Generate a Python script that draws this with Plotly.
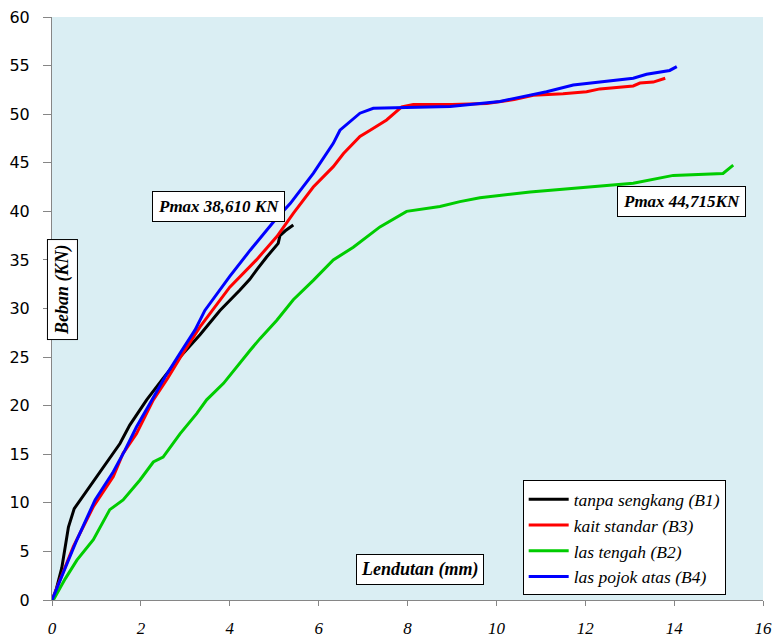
import plotly.graph_objects as go

# Data (Lendutan mm vs Beban kN)
b1_x = [0, 0.05, 0.22, 0.37, 0.5, 0.85, 1.23, 1.53, 1.75, 2.13, 2.5, 2.88, 3.33, 3.78, 4.23, 4.45, 4.61, 4.83, 5.09, 5.13, 5.25, 5.43]
b1_y = [0, 0.3, 3.3, 7.5, 9.4, 11.7, 14.1, 16.1, 18.0, 20.6, 22.8, 25.0, 27.3, 29.8, 31.9, 33.0, 34.0, 35.3, 36.7, 37.5, 38.0, 38.6]

b3_x = [0, 0.48, 0.93, 1.38, 1.6, 1.9, 2.28, 2.6, 2.88, 3.33, 4.0, 4.6, 5.06, 5.43, 5.88, 6.33, 6.56, 6.93, 7.16, 7.53, 7.87, 8.13, 9.0, 9.78, 10.4, 10.83, 11.5, 12.03, 12.33, 13.08, 13.23, 13.53, 13.8]
b3_y = [0, 5.5, 9.6, 12.7, 15.1, 17.1, 20.6, 22.8, 24.9, 28.1, 32.2, 35.0, 37.4, 39.8, 42.5, 44.6, 45.95, 47.7, 48.35, 49.4, 50.75, 51.0, 51.0, 51.1, 51.5, 51.95, 52.1, 52.3, 52.6, 52.9, 53.2, 53.3, 53.7]

b2_x = [0, 0.03, 0.3, 0.56, 0.93, 1.3, 1.6, 1.98, 2.28, 2.5, 2.88, 3.26, 3.48, 3.86, 4.46, 4.68, 5.06, 5.43, 5.88, 6.33, 6.78, 7.38, 7.98, 8.73, 9.18, 9.63, 10.76, 12.26, 13.08, 13.98, 15.1, 15.33]
b2_y = [0, 0, 2.2, 4.1, 6.2, 9.3, 10.3, 12.35, 14.2, 14.7, 17.1, 19.2, 20.6, 22.3, 25.7, 26.9, 28.8, 30.9, 32.9, 35.0, 36.3, 38.4, 40.0, 40.5, 41.0, 41.4, 42.0, 42.6, 42.9, 43.7, 43.9, 44.75]

b4_x = [0, 0.56, 0.97, 1.38, 1.64, 1.9, 2.2, 2.55, 2.88, 3.22, 3.44, 4.0, 4.46, 5.02, 5.36, 5.88, 6.33, 6.48, 6.93, 7.23, 8.96, 9.63, 10.08, 10.38, 11.13, 11.73, 12.26, 13.08, 13.38, 13.9, 14.06]
b4_y = [0, 6.2, 10.3, 13.2, 15.4, 17.8, 20.2, 23.0, 25.4, 27.8, 29.8, 33.3, 36.0, 39.1, 40.8, 43.9, 47.0, 48.35, 50.1, 50.6, 50.8, 51.1, 51.3, 51.6, 52.3, 53.0, 53.3, 53.7, 54.1, 54.5, 54.9]

series = [
    ("tanpa sengkang (B1)", b1_x, b1_y, "#000000"),
    ("kait standar (B3)", b3_x, b3_y, "#FF0000"),
    ("las tengah (B2)", b2_x, b2_y, "#00CC00"),
    ("las pojok atas (B4)", b4_x, b4_y, "#0000FF"),
]

x_ticks = [0, 2, 4, 6, 8, 10, 12, 14, 16]
y_ticks = [0, 5, 10, 15, 20, 25, 30, 35, 40, 45, 50, 55, 60]

fig = go.Figure()
for name, xs, ys, col in series:
    fig.add_trace(go.Scatter(x=xs, y=ys, mode="lines", name=name,
                             line=dict(color=col, width=3)))

serif = "Times New Roman, Liberation Serif, serif"

def box(size):
    return dict(bgcolor="white", bordercolor="black", borderwidth=1, showarrow=False,
                font=dict(family=serif, size=size, color="black", style="italic", weight="bold"))

fig.add_annotation(x=3.74, y=40.5, text="Pmax 38,610 KN", borderpad=5, **box(17))
fig.add_annotation(x=14.16, y=41.05, text="Pmax 44,715KN", borderpad=5, **box(17))
fig.add_annotation(x=8.29, y=3.19, text="Lendutan (mm)", borderpad=4, **box(18))
fig.add_annotation(x=0.225, y=31.9, text="Beban (KN)", textangle=-90, borderpad=4, **box(18))

fig.update_layout(
    width=775, height=637,
    margin=dict(l=52, r=12, t=17, b=37),
    paper_bgcolor="white",
    plot_bgcolor="#DAEEF3",
    showlegend=True,
    legend=dict(x=0.662, y=0.205, xanchor="left", yanchor="top",
                bgcolor="white", bordercolor="black", borderwidth=1,
                itemwidth=40,
                font=dict(family=serif, size=17.5, color="black", style="italic"),
                tracegroupgap=0),
)
fig.update_xaxes(range=[0, 16], tickvals=x_ticks, showgrid=False, zeroline=False,
                 automargin=False,
                 showline=True, linecolor="#868686", linewidth=1,
                 ticks="outside", ticklen=5, tickcolor="#868686",
                 ticklabelstandoff=8,
                 tickfont=dict(family=serif, size=17, color="black", style="italic"))
fig.update_yaxes(range=[0, 60], tickvals=y_ticks, showgrid=False, zeroline=False,
                 automargin=False,
                 showline=True, linecolor="#868686", linewidth=1,
                 ticks="outside", ticklen=8, tickcolor="#868686",
                 ticklabelstandoff=10,
                 tickfont=dict(family="DejaVu Sans", size=16, color="black"))

fig.write_html("out.html",
               config={"displayModeBar": False},
               post_script="document.body.style.margin='0px';document.body.style.overflow='hidden';")
